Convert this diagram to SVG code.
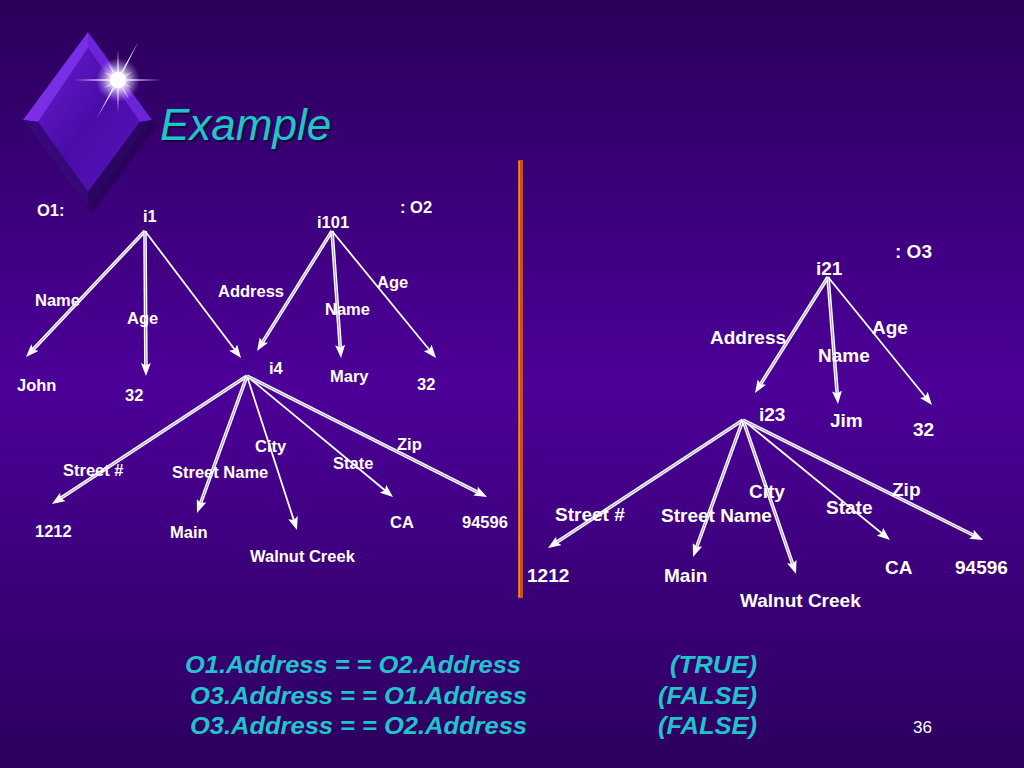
<svg xmlns="http://www.w3.org/2000/svg" width="1024" height="768" viewBox="0 0 1024 768">
<defs>
<linearGradient id="bg" x1="0" y1="0" x2="0" y2="1">
<stop offset="0" stop-color="#2a005a"/>
<stop offset="0.5" stop-color="#4c0098"/>
<stop offset="1" stop-color="#2c005e"/>
</linearGradient>
<linearGradient id="face" x1="0" y1="0" x2="1" y2="1">
<stop offset="0" stop-color="#6a1cd0"/>
<stop offset="0.5" stop-color="#4a0ca8"/>
<stop offset="1" stop-color="#5814bc"/>
</linearGradient>
<radialGradient id="glow" cx="0.5" cy="0.5" r="0.5">
<stop offset="0" stop-color="#ffffff" stop-opacity="1"/>
<stop offset="0.35" stop-color="#ffffff" stop-opacity="0.85"/>
<stop offset="1" stop-color="#c8a8ff" stop-opacity="0"/>
</radialGradient>
<linearGradient id="starfill" x1="0" y1="0" x2="1" y2="1">
<stop offset="0" stop-color="#ffffff"/>
<stop offset="1" stop-color="#d8c8ff"/>
</linearGradient>
<marker id="ah" viewBox="0 0 13 10" refX="4" refY="5" markerWidth="13" markerHeight="10" markerUnits="userSpaceOnUse" orient="auto">
<path d="M0,0 L13,5 L0,10 L2.5,5 z" fill="#ffffff"/>
</marker>
</defs>
<style>
.w1{stroke:#ffffff;stroke-width:1.8;fill:none}
.w2{stroke:#ffffff;stroke-width:3.6;fill:none}
.in{stroke:#9c84d4;stroke-width:0.9;fill:none}
.l{font-family:"Liberation Sans",Arial,sans-serif;font-weight:bold;fill:#ffffff;font-size:16.5px}
.r{font-family:"Liberation Sans",Arial,sans-serif;font-weight:bold;fill:#ffffff;font-size:19px}
.eq{font-family:"Liberation Sans",Arial,sans-serif;font-weight:bold;font-style:italic;fill:#22c4cc;font-size:23px}
</style>
<rect x="0" y="0" width="1024" height="768" fill="url(#bg)"/>

<g id="logo">
<polygon points="92,38 157,126 92,214 27,126" fill="#1c0044" opacity="0.5"/>
<polygon points="88,48 140,122 88,192 38,122" fill="url(#face)"/>
<polygon points="88,32 23,120 38,122 88,48" fill="#7a2ee6"/>
<polygon points="88,32 152,120 140,122 88,48" fill="#6c24da"/>
<polygon points="23,120 88,208 88,192 38,122" fill="#36087a"/>
<polygon points="152,120 88,208 88,192 140,122" fill="#2a0662"/>
<circle cx="118" cy="80" r="22" fill="url(#glow)"/>
<polygon fill="url(#starfill)" points="162,80 121.9,81 131.9,88 120.8,82.8 129,99.1 119,83.9 118,112 117,83.9 97.2,117.6 115.2,82.9 104.1,88 114.1,81 74,80 114.1,79 104.1,72 115.2,77.2 108,62.7 117,76.1 118,50 119,76.1 138.2,42 120.8,77.1 131.9,72 121.9,79"/>
<circle cx="118" cy="80" r="8" fill="#ffffff"/>
</g>

<g id="title">
<text x="162" y="142" font-family="'Liberation Sans',Arial,sans-serif" font-style="italic" font-size="44" fill="#140a3a">Example</text>
<text x="160" y="140" font-family="'Liberation Sans',Arial,sans-serif" font-style="italic" font-size="44" fill="#22c4cc">Example</text>
</g>

<g id="divider">
<rect x="518" y="160" width="5" height="438" fill="#c4521e"/>
<line x1="519.3" y1="161" x2="519.3" y2="597" stroke="#f09050" stroke-width="1.2"/>
</g>

<g id="connectors">
<line class="w2" x1="145" y1="231" x2="32.2" y2="350.5"/><line class="in" x1="145" y1="231" x2="32.2" y2="350.5" marker-end="url(#ah)"/>
<line class="w2" x1="145" y1="231" x2="145.9" y2="367"/><line class="in" x1="145" y1="231" x2="145.9" y2="367" marker-end="url(#ah)"/>
<line class="w1" x1="145" y1="231" x2="235.6" y2="350.8" marker-end="url(#ah)"/>
<line class="w2" x1="332" y1="231" x2="261.8" y2="343.4"/><line class="in" x1="332" y1="231" x2="261.8" y2="343.4" marker-end="url(#ah)"/>
<line class="w2" x1="332" y1="231" x2="340.4" y2="349"/><line class="in" x1="332" y1="231" x2="340.4" y2="349" marker-end="url(#ah)"/>
<line class="w1" x1="332" y1="231" x2="430.3" y2="351" marker-end="url(#ah)"/>
<line class="w2" x1="247" y1="376" x2="59.5" y2="499.1"/><line class="in" x1="247" y1="376" x2="59.5" y2="499.1" marker-end="url(#ah)"/>
<line class="w2" x1="247" y1="376" x2="200.1" y2="504.5"/><line class="in" x1="247" y1="376" x2="200.1" y2="504.5" marker-end="url(#ah)"/>
<line class="w1" x1="247" y1="376" x2="294.2" y2="521.4" marker-end="url(#ah)"/>
<line class="w1" x1="247" y1="376" x2="386.1" y2="491.3" marker-end="url(#ah)"/>
<line class="w2" x1="247" y1="376" x2="479" y2="492.9"/><line class="in" x1="247" y1="376" x2="479" y2="492.9" marker-end="url(#ah)"/>
<line class="w2" x1="828" y1="277" x2="759.8" y2="385.4"/><line class="in" x1="828" y1="277" x2="759.8" y2="385.4" marker-end="url(#ah)"/>
<line class="w2" x1="828" y1="277" x2="837.3" y2="395"/><line class="in" x1="828" y1="277" x2="837.3" y2="395" marker-end="url(#ah)"/>
<line class="w1" x1="828" y1="277" x2="926.3" y2="398" marker-end="url(#ah)"/>
<line class="w2" x1="743" y1="420" x2="555.5" y2="543.1"/><line class="in" x1="743" y1="420" x2="555.5" y2="543.1" marker-end="url(#ah)"/>
<line class="w2" x1="743" y1="420" x2="696.1" y2="548.5"/><line class="in" x1="743" y1="420" x2="696.1" y2="548.5" marker-end="url(#ah)"/>
<line class="w2" x1="743" y1="420" x2="793.1" y2="565.5"/><line class="in" x1="743" y1="420" x2="793.1" y2="565.5" marker-end="url(#ah)"/>
<line class="w1" x1="743" y1="420" x2="883" y2="534.3" marker-end="url(#ah)"/>
<line class="w2" x1="743" y1="420" x2="975" y2="536"/><line class="in" x1="743" y1="420" x2="975" y2="536" marker-end="url(#ah)"/>
</g>

<g id="edge-labels">
<text class="l" x="35" y="306">Name</text>
<text class="l" x="127" y="324">Age</text>
<text class="l" x="218" y="297">Address</text>
<text class="l" x="377" y="288">Age</text>
<text class="l" x="325" y="315">Name</text>
<text class="l" x="255" y="452">City</text>
<text class="l" x="397" y="450">Zip</text>
<text class="l" x="333" y="469">State</text>
<text class="l" x="63" y="476">Street #</text>
<text class="l" x="172" y="478">Street Name</text>
<text class="r" x="710" y="344">Address</text>
<text class="r" x="872" y="334">Age</text>
<text class="r" x="818" y="362">Name</text>
<text class="r" x="749" y="498">City</text>
<text class="r" x="892" y="496">Zip</text>
<text class="r" x="826" y="514">State</text>
<text class="r" x="555" y="521">Street #</text>
<text class="r" x="661" y="522">Street Name</text>
</g>

<g id="o1-label"><text class="l" x="37" y="216">O1:</text></g>
<g id="n-i1"><text class="l" x="143" y="222">i1</text></g>
<g id="o2-label"><text class="l" x="400" y="213">: O2</text></g>
<g id="n-i101"><text class="l" x="317" y="228">i101</text></g>
<g id="n-john"><text class="l" x="17" y="391">John</text></g>
<g id="n-32a"><text class="l" x="125" y="401">32</text></g>
<g id="n-i4"><text class="l" x="269" y="374">i4</text></g>
<g id="n-mary"><text class="l" x="330" y="382">Mary</text></g>
<g id="n-32b"><text class="l" x="417" y="390">32</text></g>
<g id="n-1212a"><text class="l" x="35" y="537">1212</text></g>
<g id="n-main-a"><text class="l" x="170" y="538">Main</text></g>
<g id="n-walnut-a"><text class="l" x="250" y="562">Walnut Creek</text></g>
<g id="n-ca-a"><text class="l" x="390" y="528">CA</text></g>
<g id="n-zip-a"><text class="l" x="462" y="528">94596</text></g>

<g id="o3-label"><text class="r" x="895" y="258">: O3</text></g>
<g id="n-i21"><text class="r" x="816" y="275">i21</text></g>
<g id="n-i23"><text class="r" x="759" y="421">i23</text></g>
<g id="n-jim"><text class="r" x="830" y="427">Jim</text></g>
<g id="n-32c"><text class="r" x="913" y="436">32</text></g>
<g id="n-1212b"><text class="r" x="527" y="582">1212</text></g>
<g id="n-main-b"><text class="r" x="664" y="582">Main</text></g>
<g id="n-walnut-b"><text class="r" x="740" y="607">Walnut Creek</text></g>
<g id="n-ca-b"><text class="r" x="885" y="574">CA</text></g>
<g id="n-zip-b"><text class="r" x="955" y="574">94596</text></g>

<g id="comparisons">
<text class="eq" x="185" y="673" textLength="336" lengthAdjust="spacingAndGlyphs">O1.Address = = O2.Address</text>
<text class="eq" x="670" y="673" textLength="87" lengthAdjust="spacingAndGlyphs">(TRUE)</text>
<text class="eq" x="190" y="704" textLength="337" lengthAdjust="spacingAndGlyphs">O3.Address = = O1.Address</text>
<text class="eq" x="658" y="704" textLength="99" lengthAdjust="spacingAndGlyphs">(FALSE)</text>
<text class="eq" x="190" y="734" textLength="337" lengthAdjust="spacingAndGlyphs">O3.Address = = O2.Address</text>
<text class="eq" x="658" y="734" textLength="99" lengthAdjust="spacingAndGlyphs">(FALSE)</text>
</g>
<g id="page-number"><text x="913" y="733" font-family="'Liberation Sans',Arial,sans-serif" font-size="17" fill="#ffffff">36</text></g>
</svg>
